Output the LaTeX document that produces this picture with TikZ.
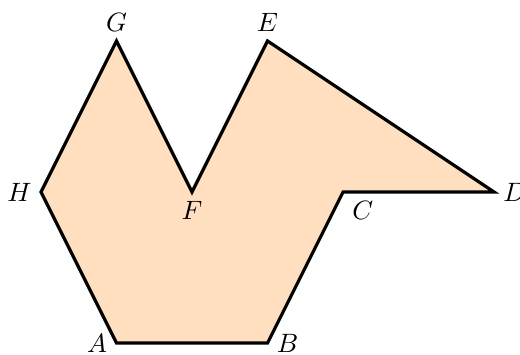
\documentclass[tikz,border=0pt]{standalone}
\usepackage{tikz}
\usetikzlibrary{positioning}

\begin{document}
\begin{tikzpicture}[
                polygone/.style={draw, very thick, fill=orange!25, line join=miter}
            ]
            \useasboundingbox (-0.543,-0.146) rectangle (6.344,4.543);

            % Sommets du polygone
            \coordinate (A) at (1,0);
            \coordinate (B) at (3,0);
            \coordinate (C) at (4,2);
            \coordinate (D) at (6,2);
            \coordinate (E) at (3,4);
            \coordinate (F) at (2,2);
            \coordinate (G) at (1,4);
            \coordinate (H) at (0,2);

            % Contour
            \draw[polygone] (A) -- (B) -- (C) -- (D) -- (E) -- (F) -- (G) -- (H) -- cycle;

            % Noms des sommets
            \node[left] (lA) at (A) {$A$};
            \node[right] (lB) at (B) {$B$};
            \node[below right] (lC) at (C) {$C$};
            \node[right] (lD) at (D) {$D$};
            \node[above] (lE) at (E) {$E$};
            \node[below] (lF) at (F) {$F$};
            \node[above] (lG) at (G) {$G$};
            \node[left] (lH) at (H) {$H$};
        \end{tikzpicture}
\end{document}
